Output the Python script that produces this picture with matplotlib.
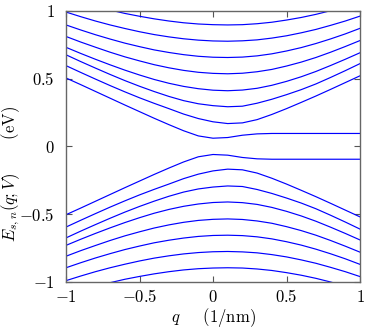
import matplotlib
matplotlib.use("Agg")
import matplotlib.pyplot as plt

plt.rcParams['mathtext.fontset'] = 'cm'
plt.rcParams['font.family'] = ['DejaVu Serif']

q = [-1.0, -0.9, -0.8, -0.7, -0.6, -0.5, -0.4, -0.3, -0.2, -0.1, 0.0,
     0.1, 0.2, 0.3, 0.4, 0.5, 0.6, 0.7, 0.8, 0.9, 1.0]

# upper band (s = +), levels n = 0..7
U0 = [0.504, 0.455, 0.405, 0.355, 0.305, 0.256, 0.207, 0.160, 0.115, 0.077, 0.060,
      0.065, 0.082, 0.092, 0.095, 0.095, 0.095, 0.095, 0.095, 0.095, 0.095]
U1 = [0.595, 0.545, 0.496, 0.448, 0.402, 0.358, 0.317, 0.278, 0.238, 0.205, 0.181,
      0.168, 0.173, 0.197, 0.235, 0.278, 0.324, 0.371, 0.420, 0.470, 0.520]
U2 = [0.675, 0.625, 0.577, 0.530, 0.485, 0.443, 0.404, 0.368, 0.337, 0.314, 0.300,
      0.292, 0.296, 0.318, 0.347, 0.381, 0.418, 0.460, 0.508, 0.558, 0.610]
U3 = [0.730, 0.685, 0.642, 0.601, 0.562, 0.526, 0.493, 0.465, 0.442, 0.425, 0.414,
      0.410, 0.415, 0.428, 0.450, 0.479, 0.513, 0.552, 0.596, 0.642, 0.690]
U4 = [0.810, 0.769, 0.731, 0.694, 0.660, 0.630, 0.602, 0.579, 0.560, 0.546, 0.538,
      0.535, 0.539, 0.550, 0.567, 0.592, 0.621, 0.655, 0.694, 0.736, 0.780]
U5 = [0.895, 0.858, 0.823, 0.791, 0.761, 0.735, 0.711, 0.692, 0.676, 0.664, 0.657,
      0.655, 0.658, 0.667, 0.682, 0.703, 0.728, 0.758, 0.792, 0.829, 0.870]
U6 = [0.990, 0.956, 0.924, 0.895, 0.869, 0.845, 0.824, 0.807, 0.793, 0.783, 0.777,
      0.775, 0.778, 0.785, 0.798, 0.815, 0.837, 0.862, 0.892, 0.924, 0.960]
U7 = [1.094, 1.062, 1.032, 1.005, 0.980, 0.959, 0.940, 0.924, 0.911, 0.902, 0.897,
      0.895, 0.897, 0.904, 0.915, 0.931, 0.950, 0.973, 1.000, 1.030, 1.063]

# lower band (s = -), levels n = 0..7
L0 = [-0.504, -0.455, -0.405, -0.355, -0.305, -0.256, -0.207, -0.160, -0.115, -0.077, -0.060,
      -0.065, -0.082, -0.092, -0.095, -0.095, -0.095, -0.095, -0.095, -0.095, -0.095]
L1 = [-0.595, -0.545, -0.496, -0.448, -0.402, -0.358, -0.317, -0.278, -0.238, -0.205, -0.181,
      -0.168, -0.173, -0.197, -0.235, -0.278, -0.324, -0.371, -0.420, -0.470, -0.520]
L2 = [-0.675, -0.625, -0.577, -0.530, -0.485, -0.443, -0.404, -0.368, -0.337, -0.314, -0.300,
      -0.292, -0.296, -0.318, -0.347, -0.381, -0.418, -0.460, -0.508, -0.558, -0.610]
L3 = [-0.730, -0.685, -0.642, -0.601, -0.562, -0.526, -0.493, -0.465, -0.442, -0.425, -0.414,
      -0.410, -0.415, -0.428, -0.450, -0.479, -0.513, -0.552, -0.596, -0.642, -0.690]
L4 = [-0.810, -0.769, -0.731, -0.694, -0.660, -0.630, -0.602, -0.579, -0.560, -0.546, -0.538,
      -0.535, -0.539, -0.550, -0.567, -0.592, -0.621, -0.655, -0.694, -0.736, -0.780]
L5 = [-0.895, -0.858, -0.823, -0.791, -0.761, -0.735, -0.711, -0.692, -0.676, -0.664, -0.657,
      -0.655, -0.658, -0.667, -0.682, -0.703, -0.728, -0.758, -0.792, -0.829, -0.870]
L6 = [-0.990, -0.956, -0.924, -0.895, -0.869, -0.845, -0.824, -0.807, -0.793, -0.783, -0.777,
      -0.775, -0.778, -0.785, -0.798, -0.815, -0.837, -0.862, -0.892, -0.924, -0.960]
L7 = [-1.094, -1.062, -1.032, -1.005, -0.980, -0.959, -0.940, -0.924, -0.911, -0.902, -0.897,
      -0.895, -0.897, -0.904, -0.915, -0.931, -0.950, -0.973, -1.000, -1.030, -1.063]

xticks = [-1, -0.5, 0, 0.5, 1]
xticklabels = ['$-1$', '$-0.5$', '$0$', '$0.5$', '$1$']
yticks = [-1, -0.5, 0, 0.5, 1]
yticklabels = ['$-1$', '$-0.5$', '$0$', '$0.5$', '$1$']

fig = plt.figure(figsize=(3.68, 3.29), dpi=100)
ax = fig.add_axes([66 / 368, 1 - 282 / 329, 294 / 368, 271.3 / 329])

for series in [U0, U1, U2, U3, U4, U5, U6, U7, L0, L1, L2, L3, L4, L5, L6, L7]:
    ax.plot(q, series, color='#0000ff', lw=0.85)

ax.set_xlim(-1, 1)
ax.set_ylim(-1, 1)
ax.set_xticks(xticks)
ax.set_xticklabels(xticklabels, fontsize=12)
ax.set_yticks(yticks)
ax.set_yticklabels(yticklabels, fontsize=12)
ax.tick_params(direction='in', length=4, width=0.8, color='#555555',
               top=True, right=True)
ax.tick_params(axis='y', pad=8)
ax.tick_params(axis='x', pad=5)
for s in ax.spines.values():
    s.set_color('#666666')
    s.set_linewidth(1.0)

ax.set_xlabel(r'$q\quad\ \ \mathrm{(1/nm)}$', fontsize=12, labelpad=0)
ax.set_ylabel(r'$E_{s,n}(q;V)\qquad\ \mathrm{(eV)}$', fontsize=12)
ax.yaxis.set_label_coords(-0.15, 0.40)

fig.savefig('out.png', dpi=100)
